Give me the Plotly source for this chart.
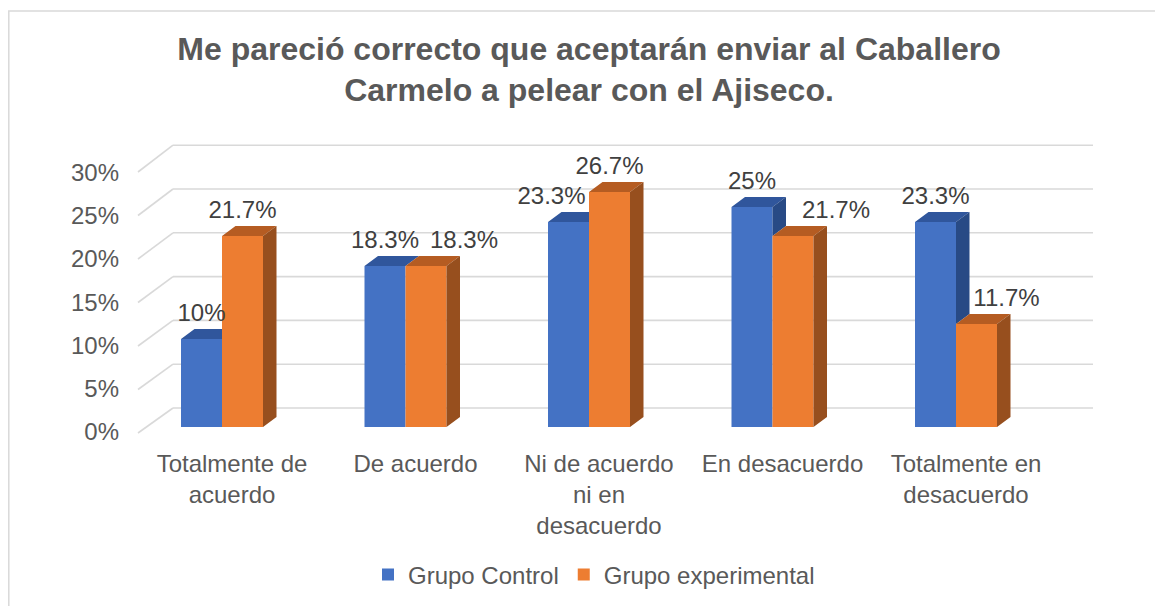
import plotly.graph_objects as go

# ---------------- data ----------------
categories = ["Totalmente de<br>acuerdo", "De acuerdo", "Ni de acuerdo<br>ni en<br>desacuerdo",
              "En desacuerdo", "Totalmente en<br>desacuerdo"]
grupo_control = [0.10, 0.183, 0.233, 0.25, 0.233]
grupo_experimental = [0.217, 0.183, 0.267, 0.217, 0.117]
series_names = ["Grupo Control", "Grupo experimental"]
y_ticks = [0, 0.05, 0.10, 0.15, 0.20, 0.25, 0.30]
y_tick_labels = ["0%", "5%", "10%", "15%", "20%", "25%", "30%"]
title_text = "<b>Me pareció correcto que aceptarán enviar al Caballero<br>Carmelo a pelear con el Ajiseco.</b>"

# ---------------- style / geometry ----------------
OFF = 8                   # page body margin of the browser
W, H = 1163 - OFF, 606 - OFF
# plot area in screen pixels
P_L, P_R, P_T, P_B = 130, 1100, 137, 438
ML, MR, MT, MB = P_L - OFF, W - (P_R - OFF), P_T - OFF, H - (P_B - OFF)
PX_PER_X = 183.5          # pixels per category
X0_PX = 222               # screen pixel of category 0 centre
Y0_PX = 427               # screen pixel of value 0
PX_PER_Y = 880.0          # pixels per unit (100%)

def px_x(p):
    return (p - X0_PX) / PX_PER_X

def px_y(p):
    return (Y0_PX - p) / PX_PER_Y

xr = [px_x(P_L), px_x(P_R)]
yr = [px_y(P_B), px_y(P_T)]

BW = 41 / PX_PER_X        # bar width
DX = 13.5 / PX_PER_X      # 3D depth x
DY = 10 / PX_PER_Y        # 3D depth y

FONT = "Liberation Sans, Arial, sans-serif"
FS = 24
TXT = "#595959"
LBL = "#404040"
BLUE, BLUE_TOP, BLUE_SIDE = "#4472C4", "#30569C", "#284A85"
ORNG, ORNG_TOP, ORNG_SIDE = "#ED7D31", "#B55C22", "#974F1E"
GRID = "#D9D9D9"
label_dx_px = [[0, 0], [0, 38], [-17, 0], [0, 43], [0, 30]]
LABEL_GAP = 24 / PX_PER_Y

n = len(categories)
xb_blue = [i - BW / 2 for i in range(n)]
xb_orng = [i + BW / 2 for i in range(n)]

fig = go.Figure()
fig.add_trace(go.Bar(x=xb_blue, y=grupo_control, width=BW, name=series_names[0],
                     marker=dict(color=BLUE, line=dict(width=0))))
fig.add_trace(go.Bar(x=xb_orng, y=grupo_experimental, width=BW, name=series_names[1],
                     marker=dict(color=ORNG, line=dict(width=0))))

def poly(pts_list, color):
    xs, ys = [], []
    for pts in pts_list:
        for (a, b) in pts:
            xs.append(a); ys.append(b)
        xs.append(pts[0][0]); ys.append(pts[0][1])
        xs.append(None); ys.append(None)
    fig.add_trace(go.Scatter(x=xs, y=ys, mode="lines", fill="toself", fillcolor=color,
                             line=dict(width=0, color=color), showlegend=False,
                             hoverinfo="skip"))

blue_tops, blue_sides, or_tops, or_sides = [], [], [], []
for i in range(n):
    vb, vo = grupo_control[i], grupo_experimental[i]
    xl = i - BW
    xe = i
    xr_ = i + BW
    if vb >= vo:
        blue_tops.append([(xl, vb), (xe, vb), (xe + DX, vb + DY), (xl + DX, vb + DY)])
    else:
        blue_tops.append([(xl, vb), (xe, vb), (xe, vb + DY), (xl + DX, vb + DY)])
    if vb > vo:
        blue_sides.append([(xe, vo), (xe, vb), (xe + DX, vb + DY), (xe + DX, vo + DY)])
    or_tops.append([(xe, vo), (xr_, vo), (xr_ + DX, vo + DY), (xe + DX, vo + DY)])
    or_sides.append([(xr_, 0), (xr_, vo), (xr_ + DX, vo + DY), (xr_ + DX, DY)])

poly(blue_tops, BLUE_TOP)
poly(blue_sides, BLUE_SIDE)
poly(or_tops, ORNG_TOP)
poly(or_sides, ORNG_SIDE)

# data labels
def fmt(v):
    s = f"{v*100:.1f}"
    if s.endswith(".0"):
        s = s[:-2]
    return s + "%"

lx, ly, lt = [], [], []
for i in range(n):
    for k, (vals, xc) in enumerate(((grupo_control, xb_blue[i]), (grupo_experimental, xb_orng[i]))):
        lx.append(xc + label_dx_px[i][k] / PX_PER_X)
        ly.append(vals[i] + LABEL_GAP)
        lt.append(fmt(vals[i]))
fig.add_trace(go.Scatter(x=lx, y=ly, text=lt, mode="text", showlegend=False,
                         textfont=dict(family=FONT, size=FS, color=LBL),
                         textposition="middle center", cliponaxis=False, hoverinfo="skip"))

# gridlines (back wall + floor diagonals)
shapes = []
bx0, bx1 = px_x(173), px_x(1093)
fx = px_x(138)
for k, v in enumerate(y_ticks):
    back_y = px_y(408 - 43.8 * k)
    front_y = px_y(433 - 43.5 * k)
    shapes.append(dict(type="line", xref="x", yref="y", x0=bx0, x1=bx1, y0=back_y, y1=back_y,
                       line=dict(color=GRID, width=1.6), layer="below"))
    shapes.append(dict(type="line", xref="x", yref="y", x0=fx, x1=bx0, y0=front_y, y1=back_y,
                       line=dict(color=GRID, width=1.6), layer="below"))

# chart border (screen pixels -> paper)
pw = P_R - P_L
ph = P_B - P_T
def pap_x(p):
    return (p - P_L) / pw
def pap_y(p):
    return (P_B - p) / ph
shapes.append(dict(type="rect", xref="paper", yref="paper",
                   x0=pap_x(OFF + 0.8), x1=pap_x(1200),
                   y0=pap_y(650), y1=pap_y(11),
                   line=dict(color=GRID, width=1.5), fillcolor="rgba(0,0,0,0)", layer="below"))

tick_y = [px_y(432 - 43.3 * k) for k in range(len(y_ticks))]

fig.update_layout(
    width=W, height=H,
    margin=dict(l=ML, r=MR, t=MT, b=MB, autoexpand=False),
    paper_bgcolor="white", plot_bgcolor="white",
    barmode="overlay",
    shapes=shapes,
    title=dict(text=title_text, x=(589 - OFF) / W, xref="container", xanchor="center",
               y=1 - (71 - 11.5 - OFF) / H, yref="container", yanchor="middle",
               font=dict(family=FONT, size=32, color=TXT)),
    xaxis=dict(range=xr, tickvals=[i + 10 / PX_PER_X for i in range(n)], ticktext=categories,
               showgrid=False, zeroline=False, showline=False, ticks="",
               tickfont=dict(family=FONT, size=FS, color=TXT), ticklabelstandoff=9,
               fixedrange=True),
    yaxis=dict(range=yr, tickvals=tick_y, ticktext=y_tick_labels,
               showgrid=False, zeroline=False, showline=False, ticks="",
               tickfont=dict(family=FONT, size=FS, color=TXT), ticklabelstandoff=10,
               fixedrange=True),
    legend=dict(orientation="h", x=(594 - OFF) / W, xref="container", xanchor="center",
                y=1 - (575 - OFF) / H, yref="container", yanchor="middle",
                font=dict(family=FONT, size=FS, color=TXT), itemclick=False),
    showlegend=True,
)

fig.write_html("out.html")
